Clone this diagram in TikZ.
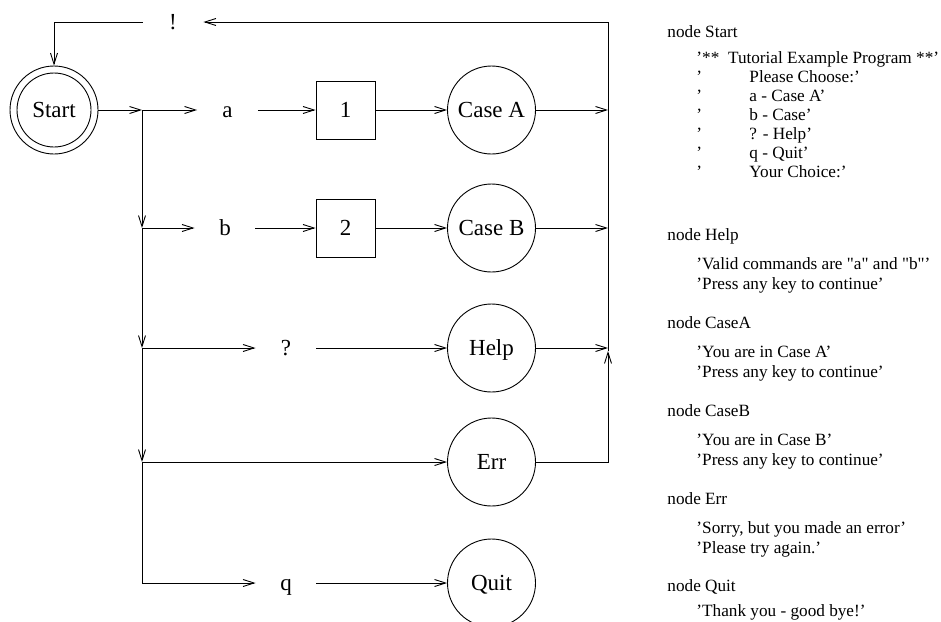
\documentclass[tikz,border=0pt]{standalone}
\usepackage{fontspec}
\setmainfont{Liberation Serif}
\newfontfamily\rawfont{Liberation Serif}
\usetikzlibrary{arrows.meta}
\begin{document}
\begin{tikzpicture}[x=1pt,y=-1pt,line width=0.9pt,
  arr/.style={-{Straight Barb[length=11pt,width=7pt]}},
  dfont/.style={font=\fontsize{23}{27}\selectfont,text height=15.2pt,text depth=0pt},
  state/.style={circle,draw,minimum size=88pt,inner sep=0pt,dfont},
  boxnode/.style={rectangle,draw,minimum width=59pt,minimum height=58pt,inner sep=0pt,dfont},
  lbl/.style={rectangle,minimum width=60pt,inner sep=0pt,dfont},
  txt/.style={anchor=base west,inner sep=0pt,font=\rawfont\fontsize{17.2}{20}\selectfont}]
\useasboundingbox (0,0) rectangle (941,621);

% junctions and collector points
\coordinate (J1) at (142,110);
\coordinate (J2) at (142,228);
\coordinate (J3) at (142,348);
\coordinate (J4) at (142,462);
\coordinate (R1) at (608,110);
\coordinate (R2) at (608,228);
\coordinate (R3) at (608,348);
\coordinate (R3u) at (608,351);

% nodes
\node[state] (Start) at (54,110) {Start};
\draw (Start.center) circle[radius=37pt];
\node[lbl] (bang) at (173,22) {!};
\node[lbl] (la) at (227.5,110) {a};
\node[boxnode] (b1) at (345.5,110) {1};
\node[state] (CA) at (491.5,110) {Case A};
\node[lbl] (lb) at (225,228) {b};
\node[boxnode] (b2) at (345.5,228) {2};
\node[state] (CB) at (491.5,228) {Case B};
\node[lbl] (lq) at (286,348) {?};
\node[state] (Help) at (491.5,348) {Help};
\node[state] (Err) at (491.5,462) {Err};
\node[lbl] (lz) at (286,583) {q};
\node[state] (Quit) at (491.5,583) {Quit};

% connectors
\draw[arr] (Start) -- (J1);
\draw[arr] (J1) -- (la);
\draw[arr] (la) -- (b1);
\draw[arr] (b1) -- (CA);
\draw[arr] (CA) -- (R1);
\draw[arr] (J1) -- (J2);
\draw[arr] (J2) -- (lb);
\draw[arr] (lb) -- (b2);
\draw[arr] (b2) -- (CB);
\draw[arr] (CB) -- (R2);
\draw[arr] (J2) -- (J3);
\draw[arr] (J3) -- (lq);
\draw[arr] (lq) -- (Help);
\draw[arr] (Help) -- (R3);
\draw[arr] (J3) -- (J4);
\draw[arr] (J4) -- (Err);
\draw[arr] (J4) |- (lz);
\draw[arr] (lz) -- (Quit);
\draw[arr] (Err) -| (R3u);
\draw[arr] (R3u) |- (bang);
\draw[arr] (bang) -| (Start);

% text column
\node[txt] (t1) at (667,37) {node Start};
\node[txt] (t2) at (696,63) {’**\hspace{8.7pt}Tutorial Example Program **’};
\node[txt] (t3) at (696,82) {\makebox[53pt][l]{’}Please Choose:’};
\node[txt] (t4) at (696,101) {\makebox[53pt][l]{’}a - Case A’};
\node[txt] (t5) at (696,120) {\makebox[53pt][l]{’}b - Case’};
\node[txt] (t6) at (696,139) {\makebox[53pt][l]{’}? - Help’};
\node[txt] (t7) at (696,158) {\makebox[53pt][l]{’}q - Quit’};
\node[txt] (t8) at (696,177) {\makebox[53pt][l]{’}Your Choice:’};

\node[txt] (t9) at (667,240) {node Help};
\node[txt] (t10) at (696,269) {’Valid commands are "a" and "b"’};
\node[txt] (t11) at (696,289) {’Press any key to continue’};

\node[txt] (t12) at (667,328) {node CaseA};
\node[txt] (t13) at (696,357) {’You are in Case A’};
\node[txt] (t14) at (696,377) {’Press any key to continue’};

\node[txt] (t15) at (667,416) {node CaseB};
\node[txt] (t16) at (696,445) {’You are in Case B’};
\node[txt] (t17) at (696,465) {’Press any key to continue’};

\node[txt] (t18) at (667,504) {node Err};
\node[txt] (t19) at (696,533) {’Sorry, but you made an error’};
\node[txt] (t20) at (696,553) {’Please try again.’};

\node[txt] (t21) at (667,591) {node Quit};
\node[txt] (t22) at (696,616) {’Thank you - good bye!’};
\end{tikzpicture}
\end{document}
